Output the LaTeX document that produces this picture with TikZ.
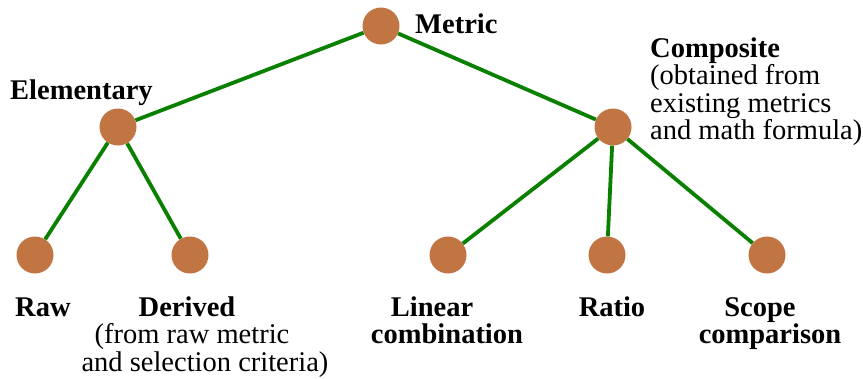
\documentclass[tikz,border=0pt]{standalone}
\usepackage{fontspec}
\setmainfont{Liberation Serif}
\definecolor{dotbrown}{RGB}{193,117,66}
\definecolor{linegreen}{RGB}{10,128,0}
\begin{document}
\begin{tikzpicture}[x=1pt,y=-1pt,
  dot/.style={circle,fill=dotbrown,minimum size=37pt,inner sep=0pt},
  edge/.style={draw=linegreen,line width=3.8pt},
  lbl/.style={inner sep=0pt,font=\fontsize{28.5}{27.5}\selectfont},
  bl/.style={lbl,font=\fontsize{28.5}{27.5}\selectfont\bfseries}]
\useasboundingbox (0,0) rectangle (863,378);
% nodes
\node[dot] (metric) at (381,26) {};
\node[dot] (elem) at (118,127) {};
\node[dot] (comp) at (613,127) {};
\node[dot] (raw) at (35,255) {};
\node[dot] (der) at (190,255) {};
\node[dot] (lin) at (448,255) {};
\node[dot] (ratio) at (607,255) {};
\node[dot] (scope) at (767,255) {};
% edges
\draw[edge] (metric) -- (elem);
\draw[edge] (metric) -- (comp);
\draw[edge] (elem) -- (raw);
\draw[edge] (elem) -- (der);
\draw[edge] (comp) -- (lin);
\draw[edge] (comp) -- (ratio);
\draw[edge] (comp) -- (scope);
% labels (base anchor of a multi-line node = baseline of its last line)
\node[bl,anchor=base west] (tmetric) at (415,33) {Metric};
\node[bl,anchor=base west] (telem) at (10,99) {Elementary};
\node[lbl,anchor=base west,align=left] (tcomp) at (650,139.5) {\textbf{Composite}\\(obtained from\\existing metrics\\and math formula)};
\node[bl,anchor=base west] (traw) at (15,316) {Raw};
\node[lbl,anchor=base,align=center] (tder) at (205,371) {\textbf{Derived}\rule{36pt}{0pt}\\(from raw metric\rule{26pt}{0pt}\\and selection criteria)};
\node[bl,anchor=base,align=center] (tlin) at (447,343.5) {Linear\rule{30pt}{0pt}\\combination};
\node[bl,anchor=base] (tratio) at (612,316) {Ratio};
\node[bl,anchor=base,align=center] (tscope) at (770,343.5) {Scope\rule{20pt}{0pt}\\comparison};
\end{tikzpicture}
\end{document}
